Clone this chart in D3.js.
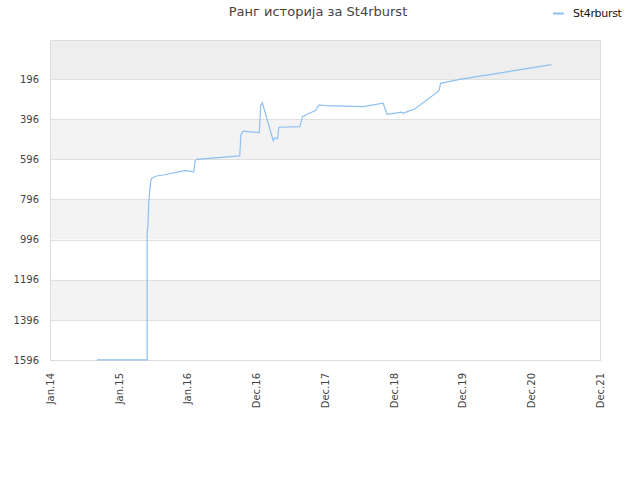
<!DOCTYPE html>
<html lang="sr">
<head>
    <meta charset="UTF-8">
    <title>Ранг историја за St4rburst</title>
    <script src="https://d3js.org/d3.v7.min.js"></script>
    <style>
        body {
            margin: 0;
            background: #fff;
        }
        text {
            font-family: 'DejaVu Sans', sans-serif;
        }
        .grid line {
            stroke: #e0e0e0;
        }
        .tick text {
            fill: #444;
            font-size: 10px;
        }
    </style>
</head>
<body>
    <svg id="chart"></svg>

    <script>
        // Datumi i rang (očitano sa slike)
        const dates = [
            "2014-09-08", "2015-06-01", "2015-06-01", "2015-06-05", "2015-06-10",
            "2015-06-15", "2015-06-21", "2015-06-26", "2015-07-21", "2015-08-25",
            "2015-12-18", "2016-01-14", "2016-02-04", "2016-02-11", "2016-02-18",
            "2016-10-05", "2016-10-11", "2016-10-23", "2017-01-17", "2017-01-24",
            "2017-02-02", "2017-04-01", "2017-04-10", "2017-04-24", "2017-05-01",
            "2017-08-20", "2017-09-04", "2017-09-30", "2017-11-12", "2017-11-30",
            "2018-01-01", "2018-07-23", "2018-11-06", "2018-11-27", "2019-02-12",
            "2019-02-21", "2019-03-28", "2019-04-23", "2019-08-30", "2019-09-07",
            "2019-12-18", "2021-04-18"
        ];
        const ranks = [
            1595, 1595, 963, 931, 807,
            749, 702, 690, 679, 674,
            652, 655, 659, 603, 596,
            579, 474, 455, 463, 328,
            314, 503, 488, 493, 436,
            433, 383, 370, 353, 325,
            328, 333, 316, 371, 361,
            366, 353, 345, 254, 217,
            197, 124
        ];

        const yTicks = [196, 396, 596, 796, 996, 1196, 1396, 1596];
        const xTickDates = ["2014-01-01", "2015-01-01", "2016-01-01", "2017-01-01", "2018-01-01",
                            "2019-01-01", "2020-01-01", "2021-01-01", "2022-01-01"];
        const xTickLabels = ["Jan.14", "Jan.15", "Jan.16", "Dec.16", "Dec.17",
                             "Dec.18", "Dec.19", "Dec.20", "Dec.21"];

        const width = 640, height = 480;
        const margin = {top: 40, right: 40, bottom: 120, left: 50};
        const parse = d3.timeParse("%Y-%m-%d");

        const data = dates.map((d, i) => ({date: parse(d), rank: ranks[i]}));

        const svg = d3.select("#chart")
            .attr("width", width)
            .attr("height", height);

        const x = d3.scaleTime()
            .domain([parse(xTickDates[0]), parse(xTickDates[xTickDates.length - 1])])
            .range([margin.left, width - margin.right]);

        const y = d3.scaleLinear()
            .domain([1, 1596])
            .range([margin.top, height - margin.bottom]);

        // Trake u pozadini
        const bands = [1].concat(yTicks);
        svg.append("g")
            .selectAll("rect")
            .data(bands.slice(0, -1))
            .join("rect")
            .attr("x", margin.left)
            .attr("width", width - margin.left - margin.right)
            .attr("y", d => y(d))
            .attr("height", (d, i) => y(bands[i + 1]) - y(d))
            .attr("fill", (d, i) => i === 0 ? "#eeeeee" : (i % 2 === 0 ? "#f3f3f3" : "#ffffff"));

        // Mreža
        svg.append("g")
            .attr("class", "grid")
            .selectAll("line")
            .data(yTicks)
            .join("line")
            .attr("x1", margin.left)
            .attr("x2", width - margin.right)
            .attr("y1", d => Math.round(y(d)) + 0.5)
            .attr("y2", d => Math.round(y(d)) + 0.5);

        // Okvir
        svg.append("rect")
            .attr("x", margin.left + 0.5)
            .attr("y", margin.top + 0.5)
            .attr("width", width - margin.left - margin.right)
            .attr("height", height - margin.top - margin.bottom)
            .attr("fill", "none")
            .attr("stroke", "#dddddd");

        // Y osa
        const yAxis = svg.append("g")
            .attr("transform", `translate(${margin.left},0)`)
            .call(d3.axisLeft(y).tickValues(yTicks).tickSize(0).tickPadding(11).tickFormat(d3.format("d")));
        yAxis.select(".domain").remove();

        // X osa
        const xAxis = svg.append("g")
            .attr("transform", `translate(0,${height - margin.bottom})`)
            .call(d3.axisBottom(x)
                .tickValues(xTickDates.map(parse))
                .tickSize(0)
                .tickFormat((d, i) => xTickLabels[i]));
        xAxis.select(".domain").remove();
        xAxis.selectAll("text")
            .attr("transform", "rotate(-90)")
            .attr("text-anchor", "end")
            .attr("x", -13)
            .attr("y", 0)
            .attr("dy", "0.35em");

        // Linija
        const line = d3.line()
            .x(d => x(d.date))
            .y(d => y(d.rank));

        svg.append("path")
            .datum(data)
            .attr("fill", "none")
            .attr("stroke", "#8ec0f1")
            .attr("stroke-width", 1.2)
            .attr("d", line);

        // Naslov
        svg.append("text")
            .attr("x", 318)
            .attr("y", 16)
            .attr("text-anchor", "middle")
            .attr("font-size", 13)
            .attr("fill", "#444")
            .text("Ранг историја за St4rburst");

        // Legenda
        svg.append("line")
            .attr("x1", 553).attr("x2", 564)
            .attr("y1", 13.5).attr("y2", 13.5)
            .attr("stroke", "#8ec0f1")
            .attr("stroke-width", 2);
        svg.append("text")
            .attr("x", 573)
            .attr("y", 16.5)
            .attr("font-size", 11)
            .attr("letter-spacing", -0.3)
            .attr("fill", "#111")
            .text("St4rburst");
    </script>
</body>
</html>
